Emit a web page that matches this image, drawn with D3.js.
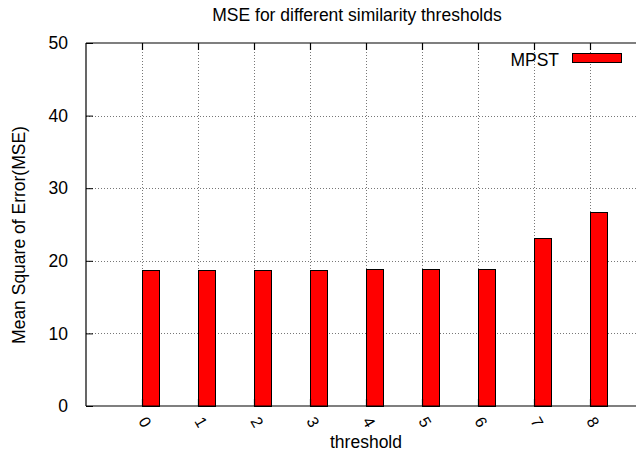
<!DOCTYPE html>
<html><head><meta charset="utf-8">
<script src="https://cdn.jsdelivr.net/npm/d3@7"></script>
<style>body{margin:0;background:#fff}svg{display:block;font-family:"Liberation Sans",Arial,sans-serif}</style>
</head><body>
<script>
const categories = ["0","1","2","3","4","5","6","7","8"];
const mpst = [18.8, 18.8, 18.8, 18.8, 18.9, 18.9, 18.9, 23.1, 26.75];
const yTicks = [0, 10, 20, 30, 40, 50];
const seriesName = "MPST";

const W = 636, H = 457;
const svg = d3.select("body").append("svg").attr("width", W).attr("height", H);
const pLeft = 86, pTop = 43, pBottom = 406, pRight = 636;

const x = d3.scaleLinear().domain([-1, 9]).range([pLeft, pLeft + 560]);
const y = d3.scaleLinear().domain([0, 50]).range([pBottom, pTop]);

// grid
const grid = svg.append("g").attr("stroke", "#777").attr("stroke-dasharray", "1,2").attr("stroke-width", 1);
yTicks.slice(1, -1).forEach(t => {
  grid.append("line").attr("x1", pLeft).attr("x2", pRight).attr("y1", Math.round(y(t)) + 0.5).attr("y2", Math.round(y(t)) + 0.5);
});
categories.forEach((c, i) => {
  grid.append("line").attr("x1", Math.round(x(i)) + 0.5).attr("x2", Math.round(x(i)) + 0.5).attr("y1", pTop).attr("y2", pBottom);
});

// bars
svg.append("g").selectAll("rect").data(mpst).join("rect")
  .attr("x", (d, i) => Math.round(x(i)) + 0.5)
  .attr("width", Math.round(x(0.3) - x(0)))
  .attr("y", d => Math.round(y(d)) + 0.5)
  .attr("height", d => Math.round(y(0)) - Math.round(y(d)))
  .attr("fill", "#ff0000").attr("stroke", "#000").attr("stroke-width", 1);

// axes frame
const frame = svg.append("g").attr("stroke", "#000").attr("stroke-width", 1.2);
frame.append("line").attr("x1", pLeft).attr("x2", pRight).attr("y1", pBottom).attr("y2", pBottom);
frame.append("line").attr("x1", pLeft).attr("x2", pRight).attr("y1", pTop).attr("y2", pTop);
frame.append("line").attr("x1", pLeft).attr("x2", pLeft).attr("y1", pTop).attr("y2", pBottom);

// y axis via d3
const yAxis = d3.axisLeft(y).tickValues(yTicks).tickSize(-7).tickPadding(18).tickFormat(d3.format("d"));
const gy = svg.append("g").attr("transform", `translate(${pLeft},0)`).call(yAxis);
gy.select(".domain").remove();
gy.selectAll("text").attr("font-size", 17.5).attr("fill", "#000").attr("font-family", "Liberation Sans, Arial, sans-serif");
gy.selectAll(".tick line").attr("stroke", "#000");

// x ticks (inner) bottom and top
categories.forEach((c, i) => {
  const xx = Math.round(x(i)) + 0.5;
  frame.append("line").attr("x1", xx).attr("x2", xx).attr("y1", pBottom).attr("y2", pBottom - 7);
  frame.append("line").attr("x1", xx).attr("x2", xx).attr("y1", pTop).attr("y2", pTop + 7);
});

// x labels rotated
svg.append("g").selectAll("text").data(categories).join("text")
  .attr("transform", (d, i) => `translate(${x(i) + 3},${422}) rotate(60)`)
  .attr("text-anchor", "middle").attr("dominant-baseline", "central")
  .attr("font-size", 16).text(d => d);

// titles
svg.append("text").attr("x", 357).attr("y", 21).attr("text-anchor", "middle").attr("font-size", 17.5).text("MSE for different similarity thresholds");
svg.append("text").attr("x", 366).attr("y", 448).attr("text-anchor", "middle").attr("font-size", 17.5).text("threshold");
svg.append("text").attr("transform", "translate(25,235) rotate(-90)").attr("text-anchor", "middle").attr("font-size", 17.5).text("Mean Square of Error(MSE)");

// legend
svg.append("text").attr("x", 559).attr("y", 66).attr("text-anchor", "end").attr("font-size", 17.5).text(seriesName);
svg.append("rect").attr("x", 572.5).attr("y", 53.5).attr("width", 49).attr("height", 9).attr("fill", "#ff0000").attr("stroke", "#000");
</script>
</body></html>
